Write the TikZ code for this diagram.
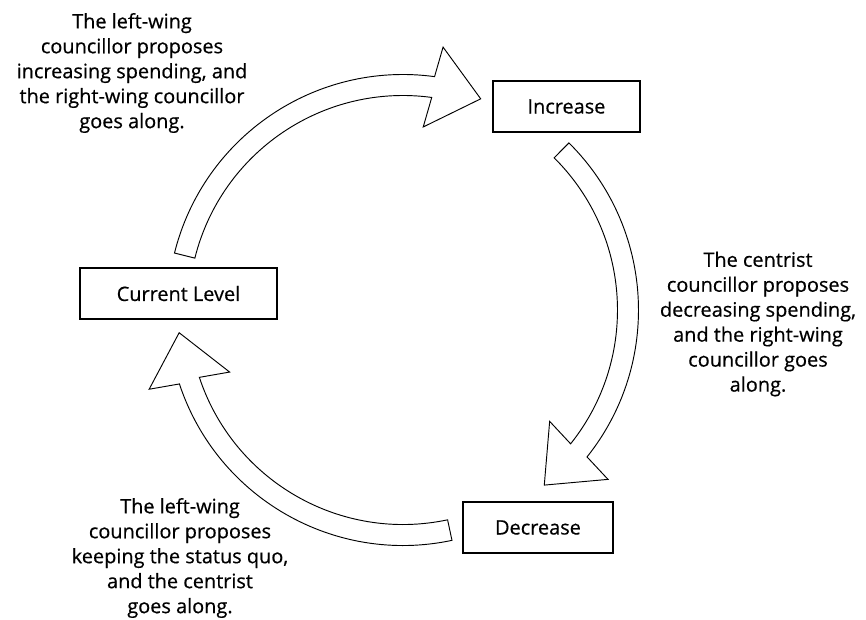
\documentclass[tikz,border=0pt]{standalone}
\usepackage{fontspec}
\setmainfont{Open Sans}[FakeBold=0.5]
\usetikzlibrary{calc}
\begin{document}
\begin{tikzpicture}[x=0.03cm,y=0.03cm,font=\fontsize{17}{21.3}\selectfont,
    box/.style={draw,line width=1.1pt,minimum height=1.53cm,inner sep=0pt},
    txt/.style={align=center,inner sep=0pt},
    freccia/.style={draw,line width=0.8pt,line join=miter,fill=white}]
            %disegna un ciclo con 3 riquadri e 3 frecce curve
            \useasboundingbox (0,0) rectangle (866,-620);
            \node[box,minimum width=5.91cm] (1) at (178.5,-293.5) {Current Level};
            \node[box,minimum width=4.41cm] (2) at (566.5,-106.5) {Increase};
            \node[box,minimum width=4.5cm] (3) at (538,-527.5) {Decrease};

            \node[txt] (4) at (132,-73) {The left-wing\\councillor proposes\\increasing spending, and\\the right-wing councillor\\goes along.};
            \node[txt] (5) at (758,-324) {The centrist\\councillor proposes\\decreasing spending,\\and the right-wing\\councillor goes\\along.};
            \node[txt] (6) at (180,-558) {The left-wing\\councillor proposes\\keeping the status quo,\\and the centrist\\goes along.};

            \coordinate (c) at (403,-310);
            \begin{scope}[shift={(c)}]
            \coordinate (b1) at (82.3:225);   \coordinate (p1) at (69.8:225);
            \coordinate (b2) at (-38.6:225);  \coordinate (p2) at (-51.1:225);
            \coordinate (b3) at (-161.7:225); \coordinate (p3) at (-174.2:225);

            \draw[freccia] (166:235.5) arc[start angle=166,end angle=82.3,radius=235.5]
                -- ($(b1)!0.84!90:(p1)$) -- (p1) -- ($(b1)!0.84!-90:(p1)$)
                -- (82.3:214.5) arc[start angle=82.3,end angle=166,radius=214.5] -- cycle;
            \draw[freccia] (45.2:235.5) arc[start angle=45.2,end angle=-38.6,radius=235.5]
                -- ($(b2)!0.84!90:(p2)$) -- (p2) -- ($(b2)!0.84!-90:(p2)$)
                -- (-38.6:214.5) arc[start angle=-38.6,end angle=45.2,radius=214.5] -- cycle;
            \draw[freccia] (-78:235.5) arc[start angle=-78,end angle=-161.7,radius=235.5]
                -- ($(b3)!0.84!90:(p3)$) -- (p3) -- ($(b3)!0.84!-90:(p3)$)
                -- (-161.7:214.5) arc[start angle=-161.7,end angle=-78,radius=214.5] -- cycle;
            \end{scope}

        \end{tikzpicture}
\end{document}
